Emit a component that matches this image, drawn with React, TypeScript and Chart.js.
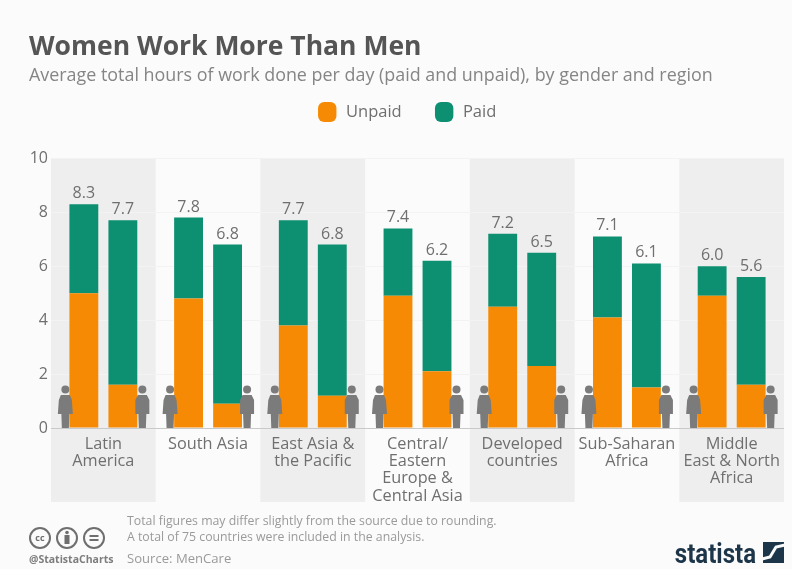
import React, { useEffect, useRef } from "react";
import { Chart, registerables } from "chart.js";

Chart.register(...registerables);

const categories = [
  ["Latin", "America"],
  "South Asia",
  ["East Asia &", "the Pacific"],
  ["Central/", "Eastern", "Europe &", "Central Asia"],
  ["Developed", "countries"],
  ["Sub-Saharan", "Africa"],
  ["Middle", "East & North", "Africa"],
];
const womenUnpaid = [5.0, 4.8, 3.8, 4.9, 4.5, 4.1, 4.9];
const womenPaid = [3.3, 3.0, 3.9, 2.5, 2.7, 3.0, 1.1];
const menUnpaid = [1.6, 0.9, 1.2, 2.1, 2.3, 1.5, 1.6];
const menPaid = [6.1, 5.9, 5.6, 4.1, 4.2, 4.6, 4.0];
const womenTotals = ["8.3", "7.8", "7.7", "7.4", "7.2", "7.1", "6.0"];
const menTotals = ["7.7", "6.8", "6.8", "6.2", "6.5", "6.1", "5.6"];
const yTicks = [0, 2, 4, 6, 8, 10];

const titleText = "Women Work More Than Men";
const subtitleText = "Average total hours of work done per day (paid and unpaid), by gender and region";
const noteLines = [
  "Total figures may differ slightly from the source due to rounding.",
  "A total of 75 countries were included in the analysis.",
];
const sourceText = "Source: MenCare";
const handleText = "@StatistaCharts";
const brandText = "statista";

const ORANGE = "#f78a04";
const GREEN = "#0d8f71";
const GREY = "#6f6f6f";
const ICON = "#7b7b7b";
const FONT = "'Open Sans', sans-serif";

function person(ctx: CanvasRenderingContext2D, cx: number, base: number, female: boolean) {
  ctx.fillStyle = ICON;
  ctx.beginPath();
  ctx.arc(cx, base - 38.5, 4, 0, Math.PI * 2);
  ctx.fill();
  const w = female ? 6.5 : 7;
  ctx.beginPath();
  ctx.moveTo(cx - 4.5, base - 33);
  ctx.lineTo(cx + 4.5, base - 33);
  ctx.lineTo(cx + w, base - 28);
  ctx.lineTo(cx + (female ? 7.5 : w), base - 14);
  ctx.lineTo(cx + 4, base - 14);
  ctx.lineTo(cx + 3.5, base);
  ctx.lineTo(cx - 3.5, base);
  ctx.lineTo(cx - 4, base - 14);
  ctx.lineTo(cx - (female ? 7.5 : w), base - 14);
  ctx.lineTo(cx - w, base - 28);
  ctx.closePath();
  ctx.fill();
}

const backdrop = {
  id: "backdrop",
  beforeDraw(chart: any) {
    const { ctx, chartArea, scales } = chart;
    ctx.save();
    ctx.fillStyle = "#fbfbfb";
    ctx.fillRect(0, 0, chart.width, chart.height);
    const half = (scales.x.getPixelForValue(1) - scales.x.getPixelForValue(0)) / 2;
    categories.forEach((_, i) => {
      if (i % 2) return;
      const c = scales.x.getPixelForValue(i);
      ctx.fillStyle = "#eeeeee";
      ctx.fillRect(c - half, chartArea.top, half * 2, 502 - chartArea.top);
    });
    ctx.restore();
  },
};

const overlay = {
  id: "overlay",
  afterDatasetsDraw(chart: any) {
    const { ctx, scales } = chart;
    ctx.save();
    const baseY = scales.y.getPixelForValue(0);
    ctx.strokeStyle = "#c9c9c9";
    ctx.beginPath();
    ctx.moveTo(scales.x.left, baseY + 0.5);
    ctx.lineTo(scales.x.right, baseY + 0.5);
    ctx.stroke();
    ctx.font = `16px ${FONT}`;
    ctx.textAlign = "center";
    ctx.textBaseline = "alphabetic";
    const wMeta = chart.getDatasetMeta(1);
    const mMeta = chart.getDatasetMeta(3);
    categories.forEach((_, i) => {
      const w = wMeta.data[i];
      const m = mMeta.data[i];
      ctx.fillStyle = GREY;
      ctx.fillText(womenTotals[i], w.x, w.y - 6);
      ctx.fillText(menTotals[i], m.x, m.y - 6);
      const c = scales.x.getPixelForValue(i);
      person(ctx, c - 38, baseY, true);
      person(ctx, c + 39, baseY, false);
    });

    // footer
    ctx.textAlign = "left";
    ctx.fillStyle = "#9a9a9a";
    ctx.font = `12.3px ${FONT}`;
    ctx.fillText(noteLines[0], 127, 525);
    ctx.fillText(noteLines[1], 127, 541);
    ctx.font = `13.1px ${FONT}`;
    ctx.fillText(sourceText, 127, 563);
    ctx.fillStyle = "#7d7d7d";
    ctx.font = `bold 10.5px ${FONT}`;
    ctx.fillText(handleText, 29, 563);

    // licence badges
    ctx.strokeStyle = "#6f6f6f";
    ctx.lineWidth = 2;
    [40, 67, 94].forEach((x) => {
      ctx.beginPath();
      ctx.arc(x, 538, 10, 0, Math.PI * 2);
      ctx.stroke();
    });
    ctx.fillStyle = "#6f6f6f";
    ctx.font = `bold 9px ${FONT}`;
    ctx.textAlign = "center";
    ctx.fillText("cc", 40, 541);
    ctx.beginPath();
    ctx.arc(67, 532.5, 1.8, 0, Math.PI * 2);
    ctx.fill();
    ctx.fillRect(64.5, 535, 5, 9);
    ctx.fillRect(89.5, 535, 9, 2);
    ctx.fillRect(89.5, 539, 9, 2);

    // brand
    ctx.fillStyle = "#1c3549";
    ctx.save();
    ctx.translate(756, 563);
    ctx.scale(0.89, 1);
    ctx.font = `bold 27px Roboto, sans-serif`;
    ctx.textAlign = "right";
    ctx.fillText(brandText, 0, 0);
    ctx.restore();
    ctx.fillRect(763, 542, 21, 21);
    ctx.strokeStyle = "#fbfbfb";
    ctx.lineWidth = 3;
    ctx.beginPath();
    ctx.moveTo(762, 559);
    ctx.lineTo(770, 557);
    ctx.lineTo(776, 547);
    ctx.lineTo(785, 545);
    ctx.stroke();
    ctx.restore();
  },
};

export default function App() {
  const ref = useRef<HTMLCanvasElement>(null);
  useEffect(() => {
    if (!ref.current) return;
    const bar = { stacked: true, categoryPercentage: 0.745, barPercentage: 0.74 };
    const chart = new Chart(ref.current, {
      type: "bar",
      data: {
        labels: categories as any,
        datasets: [
          { label: "Unpaid", data: womenUnpaid, backgroundColor: ORANGE, stack: "Women", ...bar },
          { label: "Paid", data: womenPaid, backgroundColor: GREEN, stack: "Women", ...bar },
          { label: "Unpaid", data: menUnpaid, backgroundColor: ORANGE, stack: "Men", ...bar },
          { label: "Paid", data: menPaid, backgroundColor: GREEN, stack: "Men", ...bar },
        ],
      },
      options: {
        responsive: false,
        animation: false,
        devicePixelRatio: 1,
        layout: { padding: { left: 29, right: 8, top: 32, bottom: 0 } },
        plugins: {
          title: {
            display: true,
            text: titleText,
            align: "start",
            color: "#555555",
            font: { family: FONT, size: 26.5, weight: "bold" },
            padding: { top: 0, bottom: 1 },
          },
          subtitle: {
            display: true,
            text: subtitleText,
            align: "start",
            color: "#858585",
            font: { family: FONT, size: 17.9 },
            padding: { top: 0, bottom: -14.5 },
          },
          legend: {
            position: "top",
            align: "center",
            labels: {
              filter: (item: any) => item.datasetIndex < 2,
              usePointStyle: true,
              pointStyle: "rectRounded",
              pointStyleWidth: 21,
              boxHeight: 20,
              color: GREY,
              padding: 32,
              font: { family: FONT, size: 16.5 },
            },
          },
          tooltip: { enabled: false },
        },
        scales: {
          x: {
            stacked: true,
            grid: { display: false, drawTicks: false },
            border: { display: false },
            afterFit: (s: any) => { s.height = 141; },
            ticks: {
              color: GREY,
              maxRotation: 0,
              autoSkip: false,
              padding: 8,
              font: { family: FONT, size: 16.3, lineHeight: 1.05 },
            },
          },
          spacer: {
            type: "linear",
            axis: "x",
            position: "top",
            display: true,
            grid: { display: false, drawTicks: false },
            border: { display: false },
            ticks: { display: false },
            afterFit: (s: any) => { s.height = 28; },
          },
          y: {
            stacked: true,
            min: 0,
            max: 10,
            grid: { color: "#f3f3f3", drawTicks: false },
            border: { display: false },
            afterFit: (s: any) => { s.width = 22; },
            afterBuildTicks: (s: any) => { s.ticks = yTicks.map((value) => ({ value })); },
            ticks: {
              color: GREY,
              padding: 3,
              font: { family: FONT, size: 16 },
            },
          },
        },
      },
      plugins: [backdrop, overlay],
    } as any);
    return () => chart.destroy();
  }, []);
  return (
    <canvas
      ref={ref}
      width={792}
      height={569}
      style={{ position: "absolute", left: 0, top: 0, display: "block" }}
    />
  );
}
